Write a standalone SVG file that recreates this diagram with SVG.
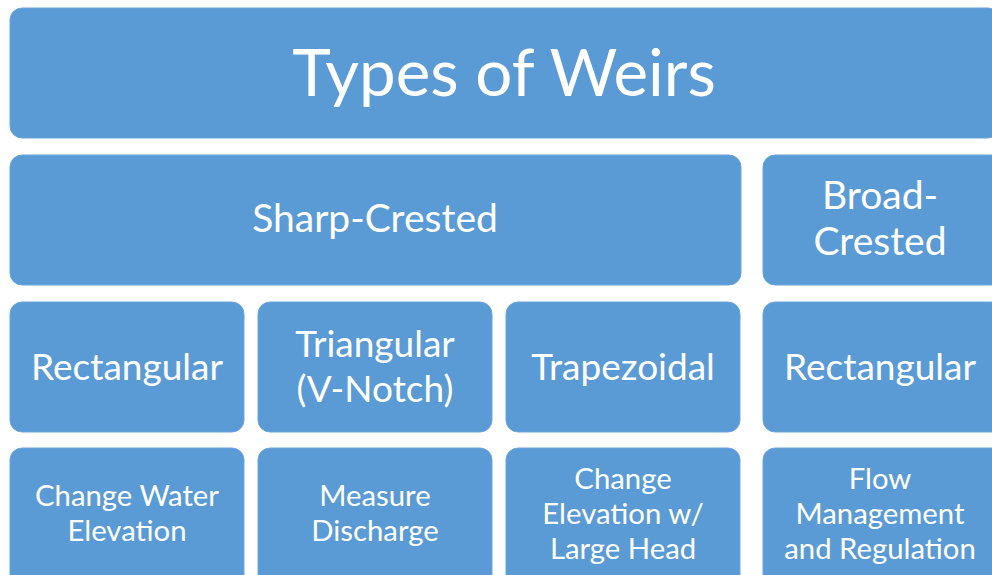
<svg xmlns="http://www.w3.org/2000/svg" width="992" height="575" viewBox="0 0 992 575">
<style>
.b{fill:#5B9BD5;stroke:#6BA5DA;stroke-width:1}
text{fill:#fff;font-family:"Lato","Open Sans","Liberation Sans",sans-serif;text-anchor:middle}
.t0{font-size:65.5px}
.t1{font-size:39px}
.t2{font-size:37px}
.t3{font-size:29.3px}
</style>
<rect width="992" height="575" fill="#fff"/>
<g id="title"><rect class="b" x="10" y="8" width="990" height="130" rx="12"/><text class="t0" x="504" y="96">Types of Weirs</text></g>
<g id="sharp"><rect class="b" x="10" y="155" width="731" height="130" rx="12"/><text class="t1" x="375" y="232">Sharp-Crested</text></g>
<g id="broad"><rect class="b" x="763" y="155" width="240" height="130" rx="12"/><text class="t1" x="880" y="209">Broad-</text><text class="t1" x="880" y="255">Crested</text></g>
<g id="rect1"><rect class="b" x="10" y="302" width="234" height="130" rx="12"/><text class="t2" x="127" y="380">Rectangular</text></g>
<g id="tri"><rect class="b" x="258" y="302" width="234" height="130" rx="12"/><text class="t2" x="375" y="357">Triangular</text><text class="t2" x="375" y="402">(V-Notch)</text></g>
<g id="trap"><rect class="b" x="506" y="302" width="234" height="130" rx="12"/><text class="t2" x="623" y="380">Trapezoidal</text></g>
<g id="rect2"><rect class="b" x="763" y="302" width="240" height="130" rx="12"/><text class="t2" x="880" y="380">Rectangular</text></g>
<g id="use1"><rect class="b" x="10" y="448" width="234" height="140" rx="12"/><text class="t3" x="127" y="506">Change Water</text><text class="t3" x="127" y="541">Elevation</text></g>
<g id="use2"><rect class="b" x="258" y="448" width="234" height="140" rx="12"/><text class="t3" x="375" y="506">Measure</text><text class="t3" x="375" y="541">Discharge</text></g>
<g id="use3"><rect class="b" x="506" y="448" width="234" height="140" rx="12"/><text class="t3" x="623" y="489">Change</text><text class="t3" x="623" y="524">Elevation w/</text><text class="t3" x="623" y="559">Large Head</text></g>
<g id="use4"><rect class="b" x="763" y="448" width="240" height="140" rx="12"/><text class="t3" x="880" y="489">Flow</text><text class="t3" x="880" y="524">Management</text><text class="t3" x="880" y="559">and Regulation</text></g>
<g id="connectors"/>
</svg>
